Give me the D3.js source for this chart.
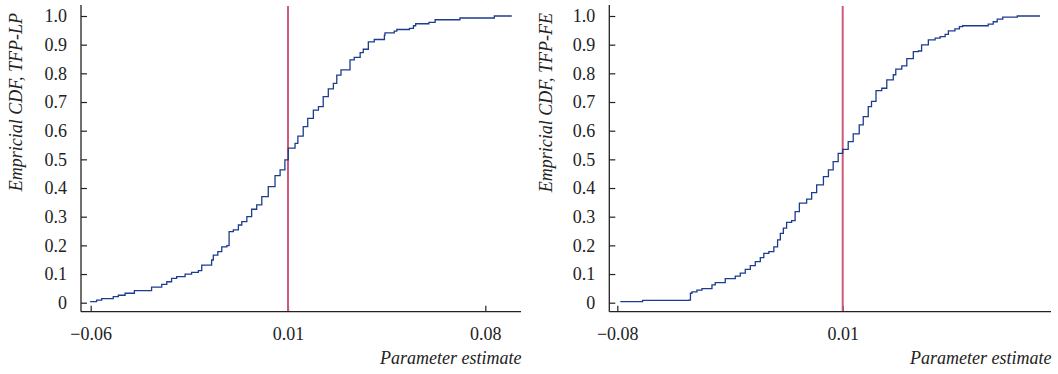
<!DOCTYPE html>
<html>
<head>
<meta charset="utf-8">
<script src="https://cdn.jsdelivr.net/npm/d3@7"></script>
<style>
  html, body { margin: 0; padding: 0; background: #fff; }
</style>
</head>
<body>
<svg id="chart" width="1058" height="374"></svg>
<script>
const lpX = [-0.0602, -0.0579, -0.0561, -0.0520, -0.0502, -0.0478, -0.0445, -0.0386, -0.0384, -0.0348, -0.0330,
  -0.0313, -0.0295, -0.0265, -0.0242, -0.0218, -0.0208, -0.0206, -0.0171, -0.0165, -0.0149, -0.0135,
  -0.0117, -0.0109, -0.0094, -0.0076, -0.0064, -0.0046, -0.0029, -0.0011, 0.0007, 0.0030, 0.0054,
  0.0072, 0.0089, 0.0101, 0.0125, 0.0135, 0.0154, 0.0170, 0.0190, 0.0208, 0.0225,
  0.0243, 0.0261, 0.0273, 0.0288, 0.0320, 0.0335, 0.0356, 0.0367, 0.0385, 0.0406,
  0.0442, 0.0444, 0.0475, 0.0477, 0.0486, 0.0529, 0.0531, 0.0545, 0.0553, 0.0598, 0.0600,
  0.0620, 0.0622, 0.0708, 0.0710, 0.0830, 0.0832, 0.0894];
const lpF = [0.004, 0.009, 0.014, 0.021, 0.026, 0.033, 0.042, 0.042, 0.054, 0.064, 0.073,
  0.085, 0.091, 0.100, 0.106, 0.112, 0.112, 0.131, 0.149, 0.166, 0.178, 0.195,
  0.199, 0.248, 0.254, 0.271, 0.283, 0.300, 0.326, 0.341, 0.370, 0.405, 0.443,
  0.463, 0.498, 0.539, 0.556, 0.581, 0.614, 0.643, 0.672, 0.684, 0.719,
  0.746, 0.765, 0.794, 0.812, 0.847, 0.856, 0.872, 0.884, 0.910, 0.918,
  0.933, 0.941, 0.941, 0.947, 0.953, 0.953, 0.957, 0.966, 0.973, 0.973, 0.978,
  0.978, 0.987, 0.987, 0.993, 0.993, 1.0, 1.0];

const feX = [-0.0788, -0.0701, -0.0699, -0.0515, -0.0508, -0.0502, -0.0482, -0.0462, -0.0422, -0.0409, -0.0369, -0.0329,
  -0.0309, -0.0289, -0.0269, -0.0249, -0.0229, -0.0215, -0.0195, -0.0175, -0.0160, -0.0149,
  -0.0137, -0.0124, -0.0104, -0.0090, -0.0073, -0.0044, -0.0024, -0.0004, 0.0023, 0.0043,
  0.0062, 0.0082, 0.0100, 0.0122, 0.0142, 0.0166, 0.0182, 0.0202, 0.0215, 0.0233,
  0.0256, 0.0276, 0.0302, 0.0312, 0.0336, 0.0356, 0.0382, 0.0402, 0.0415, 0.0442,
  0.0469, 0.0489, 0.0509, 0.0522, 0.0548, 0.0566, 0.0579, 0.0677, 0.0681, 0.0701, 0.0717,
  0.0739, 0.0795, 0.0797, 0.0888];
const feF = [0.004, 0.004, 0.008, 0.009, 0.033, 0.038, 0.044, 0.049, 0.062, 0.070, 0.084, 0.093,
  0.103, 0.116, 0.129, 0.143, 0.157, 0.172, 0.178, 0.195, 0.219, 0.242,
  0.260, 0.280, 0.286, 0.318, 0.347, 0.361, 0.384, 0.411, 0.440, 0.463,
  0.492, 0.521, 0.535, 0.562, 0.589, 0.620, 0.649, 0.684, 0.702, 0.740,
  0.748, 0.777, 0.795, 0.815, 0.826, 0.851, 0.876, 0.878, 0.899, 0.917,
  0.923, 0.928, 0.936, 0.948, 0.955, 0.963, 0.966, 0.966, 0.972, 0.980, 0.989,
  0.996, 0.996, 1.0, 1.0];

const yTicks = [0, 0.1, 0.2, 0.3, 0.4, 0.5, 0.6, 0.7, 0.8, 0.9, 1.0];
const yTickLabels = ['0', '0.1', '0.2', '0.3', '0.4', '0.5', '0.6', '0.7', '0.8', '0.9', '1.0'];
const lpTicks = [-0.06, 0.01, 0.08];
const lpTickLabels = ['\u22120.06', '0.01', '0.08'];
const feTicks = [-0.08, 0.01];
const feTickLabels = ['\u22120.08', '0.01'];
const refValue = 0.01;

const serif = '"Liberation Serif", "Times New Roman", "DejaVu Serif", serif';

const panels = [
  { xs: lpX, fs: lpF, ticks: lpTicks, labels: lpTickLabels, ylabel: 'Empricial CDF, TFP-LP',
    axisLeft: 81, axisRight: 521, tickDom: [-0.06, 0.08], tickPx: [90.7, 485.3], labelX: 22 },
  { xs: feX, fs: feF, ticks: feTicks, labels: feTickLabels, ylabel: 'Empricial CDF, TFP-FE',
    axisLeft: 609.3, axisRight: 1051, tickDom: [-0.08, 0.01], tickPx: [617.3, 842.7], labelX: 552 }
];

const svg = d3.select('#chart');
const plotTop = 5, baseY = 311.7;

panels.forEach(p => {
  const x = d3.scaleLinear().domain(p.tickDom).range(p.tickPx);
  const y = d3.scaleLinear().domain([0, 1]).range([302.7, 16]);
  const g = svg.append('g');

  // y axis, ticks pointing inward
  g.append('g')
    .attr('transform', `translate(${p.axisLeft},0)`)
    .call(d3.axisLeft(y).tickValues(yTicks).tickFormat((d, i) => yTickLabels[i])
      .tickSizeInner(-6).tickSizeOuter(0).tickPadding(14))
    .attr('font-family', serif).attr('font-size', 18)
    .call(a => a.select('.domain').remove())
    .call(a => a.selectAll('line').attr('stroke', '#222').attr('stroke-width', 1.2))
    .call(a => a.selectAll('text').style('font-family', serif).attr('fill', '#222'));

  // x axis, ticks pointing inward
  g.append('g')
    .attr('transform', `translate(0,${baseY})`)
    .call(d3.axisBottom(x).tickValues(p.ticks).tickFormat((d, i) => p.labels[i])
      .tickSizeInner(-6).tickSizeOuter(0).tickPadding(16))
    .attr('font-family', serif).attr('font-size', 18)
    .call(a => a.select('.domain').remove())
    .call(a => a.selectAll('line').attr('stroke', '#222').attr('stroke-width', 1.2))
    .call(a => a.selectAll('text').style('font-family', serif).attr('fill', '#222'));

  g.append('line').attr('x1', p.axisLeft).attr('x2', p.axisLeft).attr('y1', plotTop).attr('y2', baseY)
    .attr('stroke', '#222').attr('stroke-width', 1.3);
  g.append('line').attr('x1', p.axisLeft).attr('x2', p.axisRight).attr('y1', baseY).attr('y2', baseY)
    .attr('stroke', '#222').attr('stroke-width', 1.3);

  // reference line at the true parameter
  g.append('line').attr('x1', x(refValue)).attr('x2', x(refValue)).attr('y1', plotTop + 1).attr('y2', baseY - 0.6)
    .attr('stroke', '#cf5b78').attr('stroke-width', 2);

  const pts = p.xs.map((v, i) => [v, p.fs[i]]);
  g.append('path')
    .datum(pts)
    .attr('fill', 'none')
    .attr('stroke', '#1c3d8f')
    .attr('stroke-width', 1.3)
    .attr('d', d3.line().x(d => x(d[0])).y(d => y(d[1])).curve(d3.curveStepAfter));

  g.append('text')
    .attr('transform', `translate(${p.labelX},13) rotate(-90)`)
    .attr('text-anchor', 'end')
    .style('font-family', serif)
    .style('font-style', 'italic')
    .style('font-size', '18px')
    .attr('fill', '#222')
    .text(p.ylabel);

  g.append('text')
    .attr('x', p.axisRight + 0.5).attr('y', 364)
    .attr('text-anchor', 'end')
    .style('font-family', serif)
    .style('font-style', 'italic')
    .style('font-size', '18px')
    .attr('fill', '#222')
    .text('Parameter estimate');
});
</script>
</body>
</html>
